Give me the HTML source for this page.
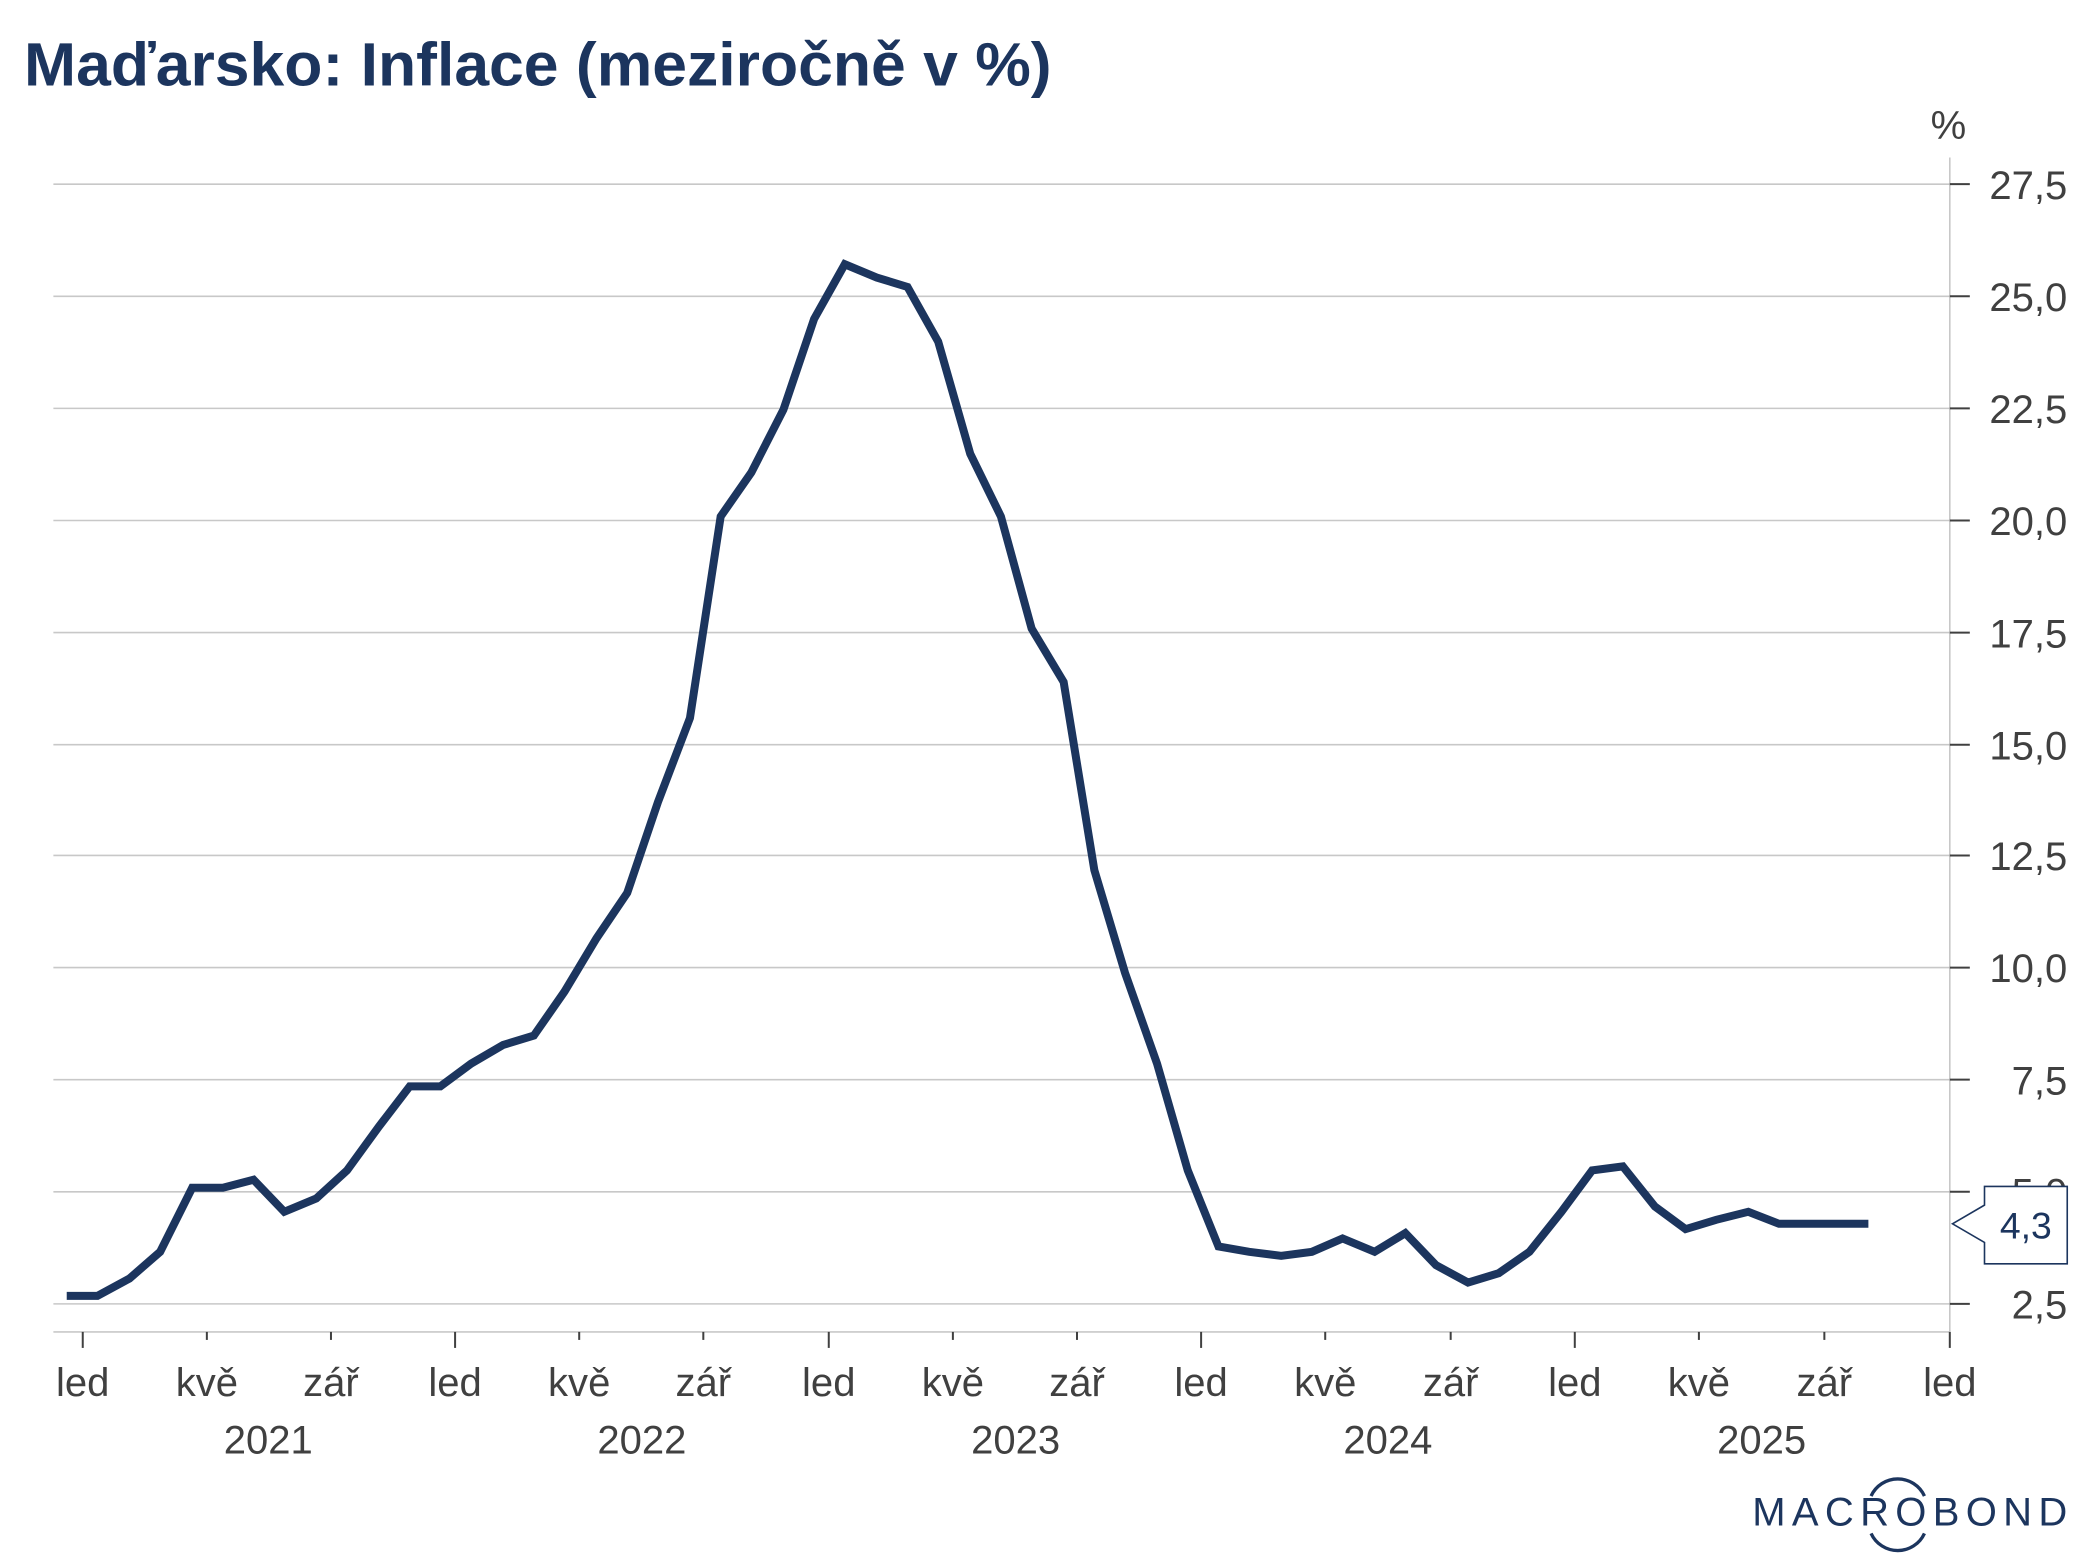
<!DOCTYPE html>
<html><head><meta charset="utf-8"><style>html,body{margin:0;padding:0;background:#fff}svg{display:block}</style></head>
<body>
<svg width="2093" height="1568" viewBox="0 0 1568.3 1174.9" xmlns="http://www.w3.org/2000/svg" font-family="Liberation Sans, Arial, sans-serif">
<text x="18" y="64" font-size="46" font-weight="bold" fill="#1c355e" textLength="770" lengthAdjust="spacingAndGlyphs">Maďarsko: Inflace (meziročně v %)</text>
<text x="1460" y="104" font-size="30" fill="#404040" text-anchor="middle">%</text>
<g stroke="#c8c8c8" stroke-width="1.2">
<line x1="40" y1="138" x2="1461" y2="138"/><line x1="40" y1="222" x2="1461" y2="222"/><line x1="40" y1="306" x2="1461" y2="306"/><line x1="40" y1="390" x2="1461" y2="390"/><line x1="40" y1="474" x2="1461" y2="474"/><line x1="40" y1="558" x2="1461" y2="558"/><line x1="40" y1="641" x2="1461" y2="641"/><line x1="40" y1="725" x2="1461" y2="725"/><line x1="40" y1="809" x2="1461" y2="809"/><line x1="40" y1="893" x2="1461" y2="893"/><line x1="40" y1="977" x2="1461" y2="977"/>
<line x1="40" y1="998" x2="1461" y2="998"/>
<line x1="1461" y1="118" x2="1461" y2="998"/>
</g>
<g stroke="#404040" stroke-width="1.5">
<line x1="1461" y1="138" x2="1476" y2="138"/><line x1="1461" y1="222" x2="1476" y2="222"/><line x1="1461" y1="306" x2="1476" y2="306"/><line x1="1461" y1="390" x2="1476" y2="390"/><line x1="1461" y1="474" x2="1476" y2="474"/><line x1="1461" y1="558" x2="1476" y2="558"/><line x1="1461" y1="641" x2="1476" y2="641"/><line x1="1461" y1="725" x2="1476" y2="725"/><line x1="1461" y1="809" x2="1476" y2="809"/><line x1="1461" y1="893" x2="1476" y2="893"/><line x1="1461" y1="977" x2="1476" y2="977"/>
<line x1="62" y1="998" x2="62" y2="1010"/><line x1="155" y1="998" x2="155" y2="1004"/><line x1="248" y1="998" x2="248" y2="1004"/>
<line x1="341" y1="998" x2="341" y2="1010"/><line x1="434" y1="998" x2="434" y2="1004"/><line x1="527" y1="998" x2="527" y2="1004"/>
<line x1="621" y1="998" x2="621" y2="1010"/><line x1="714" y1="998" x2="714" y2="1004"/><line x1="807" y1="998" x2="807" y2="1004"/>
<line x1="900" y1="998" x2="900" y2="1010"/><line x1="993" y1="998" x2="993" y2="1004"/><line x1="1087" y1="998" x2="1087" y2="1004"/>
<line x1="1180" y1="998" x2="1180" y2="1010"/><line x1="1273" y1="998" x2="1273" y2="1004"/><line x1="1367" y1="998" x2="1367" y2="1004"/>
<line x1="1461" y1="998" x2="1461" y2="1010"/>
</g>
<g font-size="30" fill="#404040" text-anchor="end">
<text x="1549" y="149">27,5</text><text x="1549" y="233">25,0</text><text x="1549" y="317">22,5</text><text x="1549" y="401">20,0</text><text x="1549" y="485">17,5</text><text x="1549" y="569">15,0</text><text x="1549" y="652">12,5</text><text x="1549" y="736">10,0</text><text x="1549" y="820">7,5</text><text x="1549" y="904">5,0</text><text x="1549" y="988">2,5</text>
</g>
<g font-size="30" fill="#404040" text-anchor="middle">
<text x="62" y="1046">led</text><text x="155" y="1046">kvě</text><text x="248" y="1046">zář</text>
<text x="341" y="1046">led</text><text x="434" y="1046">kvě</text><text x="527" y="1046">zář</text>
<text x="621" y="1046">led</text><text x="714" y="1046">kvě</text><text x="807" y="1046">zář</text>
<text x="900" y="1046">led</text><text x="993" y="1046">kvě</text><text x="1087" y="1046">zář</text>
<text x="1180" y="1046">led</text><text x="1273" y="1046">kvě</text><text x="1367" y="1046">zář</text>
<text x="1461" y="1046">led</text>
<text x="201" y="1089">2021</text><text x="481" y="1089">2022</text><text x="761" y="1089">2023</text><text x="1040" y="1089">2024</text><text x="1320" y="1089">2025</text>
</g>
<polyline fill="none" stroke="#1c355e" stroke-width="6" stroke-linejoin="miter" points="50,971 73,971 97,958 120,938 144,890 167,890 190,884 213,908 237,898 260,877 284,844 307,814 330,814 353,797 377,783 400,776 423,743 447,703 470,669 493,601 517,538 540,387 563,354 587,307 610,239 633,198 657,208 680,215 703,256 727,340 750,387 773,471 797,511 820,652 843,729 867,797 890,877 913,934 936,938 960,941 983,938 1006,928 1030,938 1053,924 1076,948 1100,961 1123,954 1146,938 1170,908 1193,877 1216,874 1240,904 1263,921 1286,914 1310,908 1333,917 1356,917 1380,917 1400,917"/>
<path d="M1463,917 L1487,903 L1487,889 L1549,889 L1549,947 L1487,947 L1487,931 Z" fill="#fff" stroke="#1c355e" stroke-width="1.2"/>
<text x="1518" y="928" font-size="28" fill="#1c355e" text-anchor="middle">4,3</text>
<text x="1313" y="1143" font-size="30" fill="#1c355e" textLength="236" lengthAdjust="spacing">MACROBOND</text>
<path d="M1402,1121 A22,22 0 0 1 1442,1121" fill="none" stroke="#1c355e" stroke-width="2.5"/>
<path d="M1402,1149 A22,22 0 0 0 1442,1149" fill="none" stroke="#1c355e" stroke-width="2.5"/>
</svg>
</body></html>
